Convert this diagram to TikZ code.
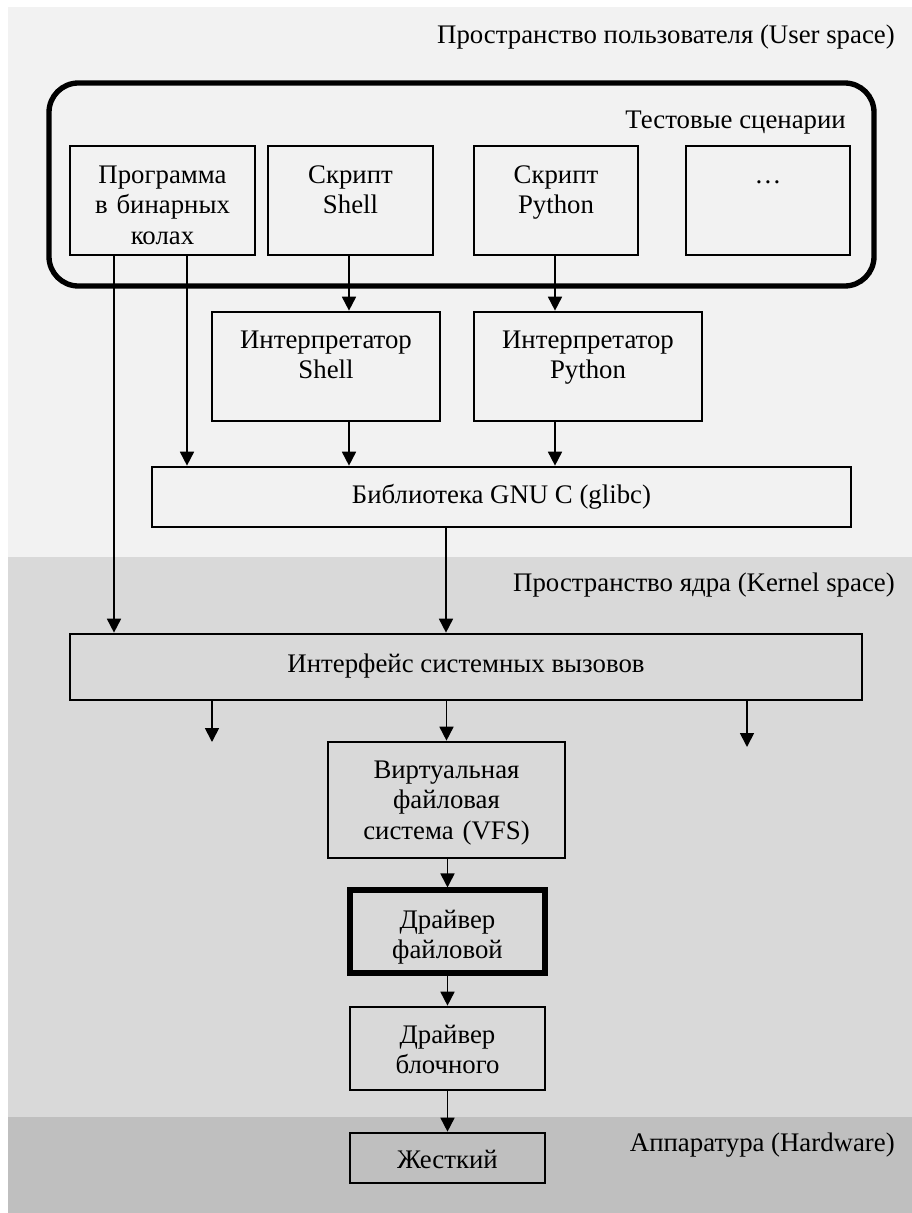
\documentclass[tikz,border=0pt]{standalone}
\usepackage{fontspec}
\setmainfont{Liberation Serif}
\usetikzlibrary{arrows.meta,fit}
\definecolor{userbg}{HTML}{F2F2F2}
\definecolor{kernbg}{HTML}{D9D9D9}
\definecolor{hwbg}{HTML}{BFBFBF}
\begin{document}
\begin{tikzpicture}[x=0.75pt,y=-0.75pt,
  box/.style={draw, line width=2pt, inner sep=0pt},
  thickbox/.style={draw, line width=3.8pt, inner sep=0pt},
  groupbox/.style={draw, line width=4pt, inner sep=0pt, rounded corners=22pt},
  txt/.style={font=\fontsize{20.1pt}{23pt}\selectfont, align=center, inner sep=0pt},
  mtxt/.style={txt, text width=200pt},
  arr/.style={line width=1.3pt, -{Triangle[length=10.5pt,width=10.5pt]}}]
\useasboundingbox (0,0) rectangle (912,1213);
% bands
\fill[userbg] (8,7) rectangle (912,557);
\fill[kernbg] (8,557) rectangle (912,1117);
\fill[hwbg] (8,1117) rectangle (912,1213);
% band labels
\node[txt, anchor=base east] (userL) at (895,44) {Пространство пользователя (User space)};
\node[txt, anchor=base east] (kernL) at (895,591) {Пространство ядра (Kernel space)};
\node[txt, anchor=base east] (hwL) at (895,1151) {Аппаратура (Hardware)};
% test scenarios group
\node[groupbox, fit={(49,83) (874,286)}] (tests) {};
\node[txt, anchor=base east] (testsL) at (846,128) {Тестовые сценарии};
% top row
\node[box, fit={(70,146) (255,255)}] (prog) {};
\node[mtxt, anchor=base] (progT) at (162.5,183) {Программа\\в бинарных\\колах};
\node[box, fit={(268,146) (433,255)}] (shell) {};
\node[mtxt, anchor=base] (shellT) at (350.5,183) {Скрипт\\Shell};
\node[box, fit={(474,146) (638,255)}] (python) {};
\node[mtxt, anchor=base] (pythonT) at (556,183) {Скрипт\\Python};
\node[box, fit={(686,146) (850,255)}] (dots) {};
\node[mtxt, anchor=base] (dotsT) at (768,183) {…};
% interpreters
\node[box, fit={(212,312) (440,421)}] (ishell) {};
\node[mtxt, anchor=base] (ishellT) at (326,348) {Интерпретатор\\Shell};
\node[box, fit={(474,312) (702,421)}] (ipython) {};
\node[mtxt, anchor=base] (ipythonT) at (588,348) {Интерпретатор\\Python};
% glibc
\node[box, fit={(152,467) (851,527)}] (glibc) {};
\node[txt, anchor=base] (glibcT) at (501.5,503) {Библиотека GNU C (glibc)};
% syscall interface
\node[box, fit={(70,634) (862,700)}] (sys) {};
\node[txt, anchor=base] (sysT) at (466,672) {Интерфейс системных вызовов};
% VFS
\node[box, fit={(328,742) (565,858)}] (vfs) {};
\node[mtxt, anchor=base] (vfsT) at (446.5,778) {Виртуальная\\файловая\\система (VFS)};
% FS driver
\node[thickbox, fit={(350,890) (545,973)}] (drvfs) {};
\node[mtxt, anchor=base] (drvfsT) at (447.5,928) {Драйвер\\файловой};
% block driver
\node[box, fit={(350,1007) (545,1090)}] (drvblk) {};
\node[mtxt, anchor=base] (drvblkT) at (447.5,1043) {Драйвер\\блочного};
% disk
\node[box, fit={(350,1133) (545,1183)}] (disk) {};
\node[txt, anchor=base] (diskT) at (447.5,1168) {Жесткий};
% helper coordinates
\coordinate (xa) at (114,0);
\coordinate (xb) at (187,0);
\coordinate (xc) at (349,0);
\coordinate (xd) at (555,0);
\coordinate (xe) at (446,0);
\coordinate (endL) at (212,742);
\coordinate (endR) at (747,747);
% connectors
\draw[arr] (prog.south -| xa) -- (sys.north -| xa);
\draw[arr] (prog.south -| xb) -- (glibc.north -| xb);
\draw[arr] (shell.south -| xc) -- (ishell.north -| xc);
\draw[arr] (python.south -| xd) -- (ipython.north -| xd);
\draw[arr] (ishell.south -| xc) -- (glibc.north -| xc);
\draw[arr] (ipython.south -| xd) -- (glibc.north -| xd);
\draw[arr] (glibc.south -| xe) -- (sys.north -| xe);
\draw[arr] (sys.south -| endL) -- (endL);
\draw[arr] (sys.south -| vfs.north) -- (vfs.north);
\draw[arr] (sys.south -| endR) -- (endR);
\draw[arr] (vfs.south -| drvfs.north) -- (drvfs.north);
\draw[arr] (drvfs.south) -- (drvblk.north);
\draw[arr] (drvblk.south) -- (disk.north);
\end{tikzpicture}
\end{document}
